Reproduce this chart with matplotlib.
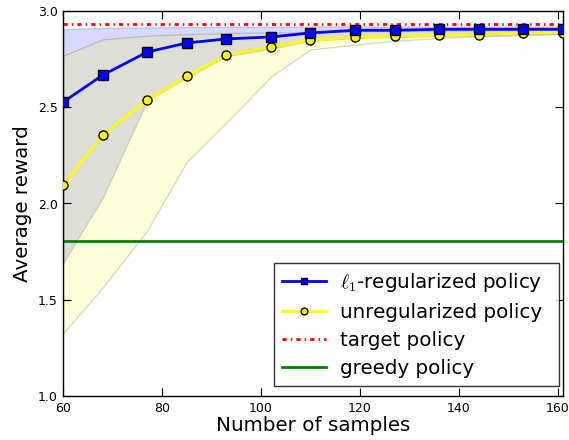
import numpy as np
import matplotlib
matplotlib.use('Agg')
import matplotlib.pyplot as plt

plt.rcParams['font.family'] = ['DejaVu Sans']
plt.rcParams['mathtext.fontset'] = 'cm'

# number of samples
n = [60, 68, 77, 85, 93, 102, 110, 119, 127, 136, 144, 153, 161]

# l1-regularized policy: mean and band
l1_mean = [2.527, 2.667, 2.787, 2.834, 2.855, 2.865, 2.886, 2.900, 2.900, 2.905, 2.905, 2.905, 2.905]
l1_low = [1.69, 2.03, 2.534, 2.655, 2.765, 2.805, 2.845, 2.860, 2.865, 2.870, 2.872, 2.880, 2.882]
l1_high = [2.906, 2.913, 2.915, 2.917, 2.918, 2.919, 2.920, 2.920, 2.920, 2.920, 2.920, 2.920, 2.920]

# unregularized policy: mean and band
un_mean = [2.096, 2.356, 2.538, 2.662, 2.771, 2.813, 2.849, 2.865, 2.870, 2.875, 2.877, 2.886, 2.886]
un_low = [1.327, 1.563, 1.86, 2.217, 2.42, 2.659, 2.80, 2.825, 2.845, 2.86, 2.868, 2.875, 2.88]
un_high = [2.768, 2.853, 2.872, 2.880, 2.885, 2.888, 2.890, 2.895, 2.897, 2.898, 2.899, 2.900, 2.900]

target = 2.932
greedy = 1.805

fig = plt.figure(figsize=(5.69, 4.4), dpi=100)
ax = fig.add_axes([0.111, 0.1, 0.878, 0.875])

ax.fill_between(n, l1_low, l1_high, facecolor='blue', edgecolor='k', alpha=0.15, linewidth=1)
ax.fill_between(n, un_low, un_high, facecolor='yellow', edgecolor='k', alpha=0.15, linewidth=1)

ax.plot(n, l1_mean, color='blue', lw=2, marker='s', ms=6.5, mfc='blue', mec='k', mew=1,
        label=r'$\ell_1$-regularized policy', zorder=5)
ax.plot(n, un_mean, color='yellow', lw=2, marker='o', ms=6.5, mfc='yellow', mec='k', mew=1,
        label='unregularized policy', zorder=4)
tl = ax.axhline(target, color='red', lw=2, ls='-.', label='target policy')
tl.set_dashes((1.5, 1.5, 0.5, 1.5))
ax.axhline(greedy, color='green', lw=2, ls='-', label='greedy policy')

ax.set_xlim(60, 161)
ax.set_ylim(1.0, 3.0)
ax.set_xticks([60, 80, 100, 120, 140, 160])
ax.set_yticks([1.0, 1.5, 2.0, 2.5, 3.0])
ax.tick_params(direction='in', top=True, right=True, length=6, labelsize=9, pad=4)
for s in ax.spines.values():
    s.set_linewidth(1)

ax.set_xlabel('Number of samples', fontsize=14.3, labelpad=1)
ax.set_ylabel('Average reward', fontsize=14.3, labelpad=4)

leg = ax.legend(loc='lower left', bbox_to_anchor=(0.422, 0.026, 0.570, 0.3), mode='expand',
                borderaxespad=0, fontsize=14.3, numpoints=1, fancybox=False,
                handlelength=2.2, labelspacing=0.45, borderpad=0.4, handletextpad=0.7,
                markerscale=0.75)
leg.get_frame().set_edgecolor('k')
leg.get_frame().set_linewidth(1)

fig.savefig('out.png', dpi=100)
